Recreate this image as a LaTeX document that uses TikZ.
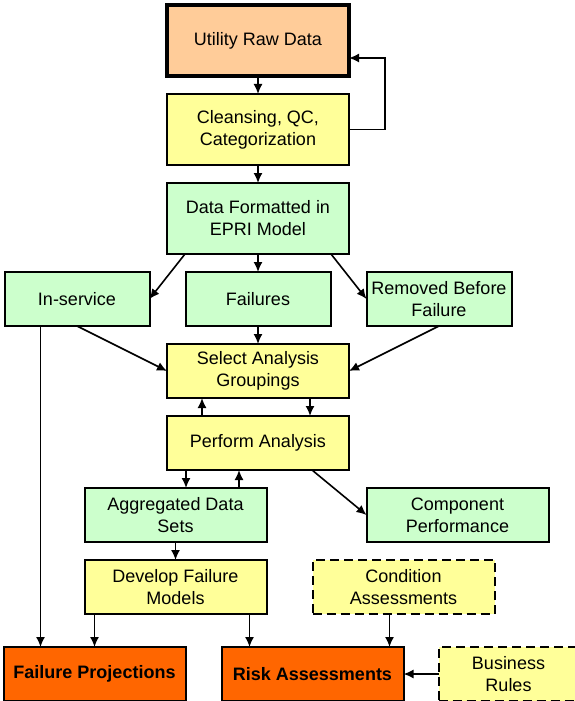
\documentclass[tikz,border=0pt]{standalone}
\usepackage{fontspec}
\setmainfont{Liberation Sans}
\usetikzlibrary{arrows.meta,positioning}
\definecolor{peach}{HTML}{FFCC99}
\definecolor{pale}{HTML}{FFFF99}
\definecolor{mint}{HTML}{CCFFCC}
\definecolor{hot}{HTML}{FF6600}

\begin{document}
\begin{tikzpicture}[x=0.5pt,y=-0.5pt,
  font=\fontsize{9}{11}\selectfont, node distance=9pt and 18pt,
  b/.style={draw,line width=1pt,align=center,minimum height=27pt,
            minimum width=91pt,fill=pale,inner sep=1pt,outer sep=0pt},
  bt/.style={b,minimum height=35.5pt},
  bm/.style={b,fill=mint},
  bs/.style={bm,minimum width=72.5pt},
  bo/.style={b,fill=hot,font=\fontsize{9}{11}\selectfont\bfseries},
  bd/.style={b,dash pattern=on 4.5pt off 2.5pt},
  a/.style={line width=0.8pt,-{Latex[length=5pt,width=4.5pt]}}]
\useasboundingbox (0,0) rectangle (574,701);
% main column
\node[bt,fill=peach,line width=2.3pt] (raw) at (258,40.5) {Utility Raw Data};
\node[bt,below=of raw] (clean) {Cleansing, QC,\\Categorization};
\node[bt,fill=mint,below=of clean] (epri) {Data Formatted in\\EPRI Model};
\node[bs,below=of epri] (fail) {Failures};
\node[bs,left=of fail] (insvc) {In-service};
\node[bs,right=of fail] (rbf) {Removed Before\\Failure};
\node[b,below=of fail] (sel) {Select Analysis\\Groupings};
\node[b,below=of sel] (perf) {Perform Analysis};
% lower rows
\node[bm,below=of perf,xshift=-41.25pt] (agg) {Aggregated Data\\Sets};
\node[bm,right=50pt of agg] (comp) {Component\\Performance};
\node[b,below=of agg] (dev) {Develop Failure\\Models};
\node[bd,right=23pt of dev] (cond) {Condition\\Assessments};
\node[bo,below=16.5pt of dev,xshift=-40.5pt] (proj) {Failure Projections};
\node[bo,right=of proj] (risk) {Risk Assessments};
\node[bd,right=17.5pt of risk,minimum width=70pt] (rules) {Business\\Rules};
% connectors
\draw[a](raw)--(clean);
\draw[a](clean.east) -- ++(18pt,0) |- ([yshift=-8.75pt]raw.east);
\draw[a](clean)--(epri);
\draw[a]([xshift=9pt]epri.south west) -- (insvc.east);
\draw[a](epri)--(fail);
\draw[a]([xshift=-9pt]epri.south east) -- (rbf.west);
\draw[a](insvc.south) -- (sel.west);
\draw[a](fail)--(sel);
\draw[a](rbf.south) -- (sel.east);
\draw[a]([xshift=18pt]insvc.south west) -- ([xshift=18pt]insvc.south west |- proj.north);
\draw[a]([xshift=17.5pt]perf.north west) -- ([xshift=17.5pt]perf.north west |- sel.south);
\draw[a]([xshift=-19.5pt]sel.south east) -- ([xshift=-19.5pt]sel.south east |- perf.north);
\draw[a]([xshift=9.5pt]perf.south west) -- ([xshift=9.5pt]perf.south west |- agg.north);
\draw[a]([xshift=36pt]perf.south west |- agg.north) -- ([xshift=36pt]perf.south west);
\draw[a]([xshift=-18.5pt]perf.south east) -- (comp.west);
\draw[a](agg)--(dev);
\draw[a](proj.north |- dev.south) -- (proj.north);
\draw[a]([xshift=14pt]risk.north west |- dev.south) -- ([xshift=14pt]risk.north west);
\draw[a]([xshift=-7pt]risk.north east |- cond.south) -- ([xshift=-7pt]risk.north east);
\draw[a](rules.west) -- (risk.east);
\end{tikzpicture}
\end{document}
